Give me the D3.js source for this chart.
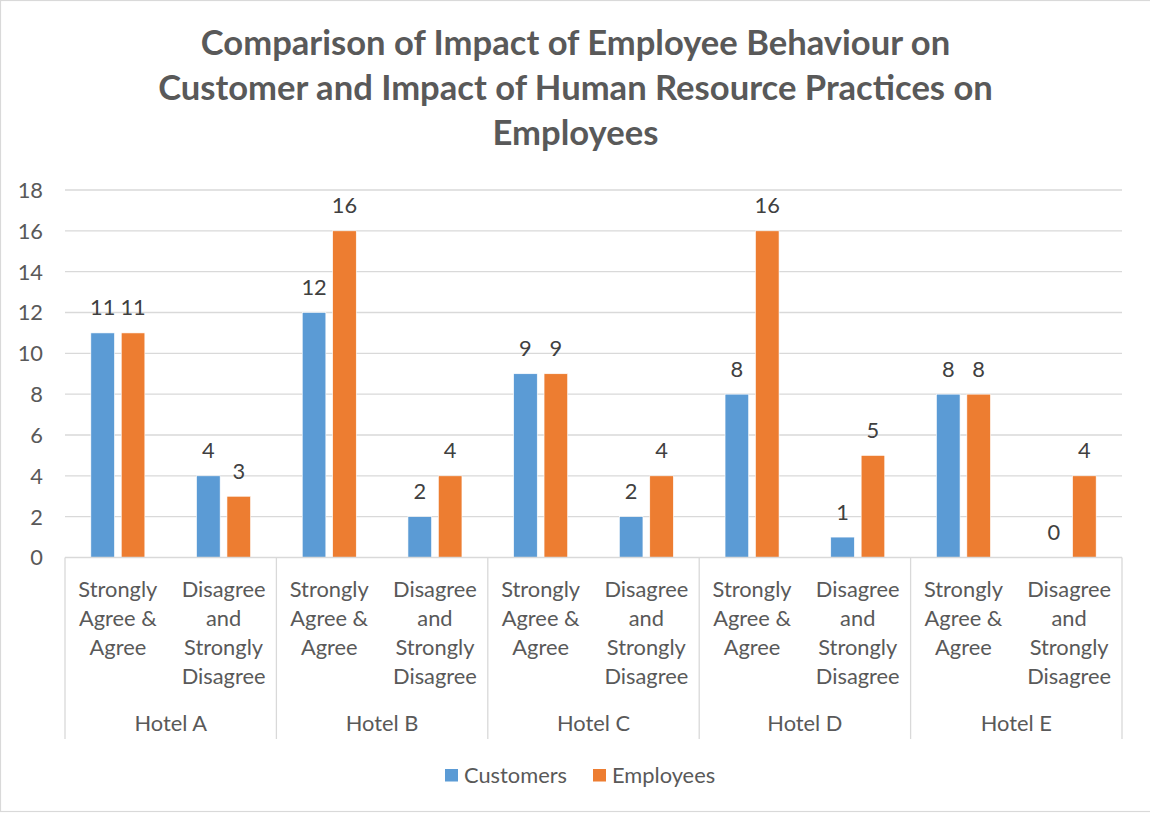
<!DOCTYPE html>
<html>
<head>
<meta charset="utf-8">
<script src="https://cdn.jsdelivr.net/npm/d3@7"></script>
<style>
  html, body { margin: 0; padding: 0; background: #fff; }
  svg { display: block; }
</style>
</head>
<body>
<svg id="chart" width="1150" height="813"></svg>
<script>
// ---- DATA ----
const titleLines = [
  "Comparison of Impact of Employee Behaviour on",
  "Customer and Impact of Human Resource Practices on",
  "Employees"
];
const hotels = ["Hotel A", "Hotel B", "Hotel C", "Hotel D", "Hotel E"];
const responses = [["Strongly", "Agree &", "Agree"], ["Disagree", "and", "Strongly", "Disagree"]];
const seriesNames = ["Customers", "Employees"];
const customers = [11, 4, 12, 2, 9, 2, 8, 1, 8, 0];
const employees = [11, 3, 16, 4, 9, 4, 16, 5, 8, 4];
const yTicks = [0, 2, 4, 6, 8, 10, 12, 14, 16, 18];

(function () {
// ---- STYLE ----
const FONT = "Lato, 'Open Sans', sans-serif";
const TEXT = "#595959";
const GRID = "#d9d9d9";
const colors = ["#5b9bd5", "#ed7d31"];

const svg = d3.select("#chart");
const W = 1150, H = 813;

// border
svg.append("rect").attr("x", 0.5).attr("y", 0.5).attr("width", W + 5).attr("height", H - 2)
  .attr("fill", "none").attr("stroke", GRID).attr("stroke-width", 1.2);

// helper to fit a font size to a target width
function fitSize(text, target, weight) {
  const t = svg.append("text").attr("font-family", FONT).attr("font-weight", weight || "normal")
    .attr("font-size", 100).text(text);
  const w = t.node().getComputedTextLength();
  t.remove();
  return 100 * target / w;
}
const baseSize = fitSize("Customers", 103);
const titleSize = fitSize(titleLines[1], 835, "bold");

// title
const titleBaselines = [55, 100, 145];
svg.append("g").selectAll("text").data(titleLines).join("text")
  .attr("x", 575.5).attr("y", (d, i) => titleBaselines[i])
  .attr("text-anchor", "middle").attr("font-family", FONT).attr("font-weight", "bold")
  .attr("font-size", titleSize).attr("fill", TEXT).text(d => d);

// scales
const pLeft = 65, pRight = 1122, pTop = 190, pBottom = 557.5;
const cats = d3.range(hotels.length * 2);
const x = d3.scaleBand().domain(cats).range([pLeft, pRight]).padding(0);
const y = d3.scaleLinear().domain([0, 18]).range([pBottom, pTop]);
const inner = d3.scaleBand().domain([0, 1]).range([-27, 27]).paddingInner(0.224).paddingOuter(0);

// gridlines
svg.append("g").selectAll("line").data(yTicks.filter(d => d > 0)).join("line")
  .attr("x1", pLeft).attr("x2", pRight).attr("y1", d => y(d)).attr("y2", d => y(d))
  .attr("stroke", GRID).attr("stroke-width", 1.3);

// y axis labels
const yAxis = d3.axisLeft(y).tickValues(yTicks).tickSize(0).tickPadding(0);
const yg = svg.append("g").attr("transform", `translate(${pLeft - 22},0)`).call(yAxis);
yg.select(".domain").remove();
yg.selectAll("text").attr("font-family", FONT).attr("font-size", baseSize).attr("fill", TEXT)
  .attr("dy", "0.34em");

// bars
const data = cats.map(i => [customers[i], employees[i]]);
const catG = svg.append("g").selectAll("g").data(data).join("g")
  .attr("transform", (d, i) => `translate(${x(i) + x.bandwidth() / 2},0)`);
catG.selectAll("rect").data(d => d).join("rect")
  .attr("x", (d, j) => inner(j)).attr("width", inner.bandwidth())
  .attr("y", d => y(d)).attr("height", d => pBottom - y(d))
  .attr("fill", (d, j) => colors[j]).attr("stroke", "#fff").attr("stroke-width", 0.6);
catG.selectAll("text").data(d => d).join("text")
  .attr("x", (d, j) => inner(j) + inner.bandwidth() / 2)
  .attr("y", d => y(d) - 17.5)
  .attr("text-anchor", "middle").attr("font-family", FONT).attr("font-size", baseSize)
  .attr("fill", "#404040").text(d => d);

// x axis line
svg.append("line").attr("x1", pLeft).attr("x2", pRight).attr("y1", pBottom).attr("y2", pBottom)
  .attr("stroke", GRID).attr("stroke-width", 1.3);
// hotel separators
const sepX = d3.range(hotels.length + 1).map(i => i < hotels.length ? x(i * 2) : pRight);
svg.append("g").selectAll("line").data(sepX).join("line")
  .attr("x1", d => d).attr("x2", d => d).attr("y1", pBottom).attr("y2", 739)
  .attr("stroke", GRID).attr("stroke-width", 1.3);

// category labels
const lineH = 29;
const catLabels = svg.append("g").selectAll("text").data(cats).join("text")
  .attr("text-anchor", "middle").attr("font-family", FONT).attr("font-size", baseSize)
  .attr("fill", TEXT);
catLabels.each(function(i) {
  const lines = responses[i % 2];
  const cx = x(i) + x.bandwidth() / 2;
  d3.select(this).selectAll("tspan").data(lines).join("tspan")
    .attr("x", cx).attr("y", (d, k) => 596.5 + k * lineH).text(d => d);
});
// hotel labels
svg.append("g").selectAll("text").data(hotels).join("text")
  .attr("x", (d, i) => x(i * 2) + x.bandwidth())
  .attr("y", 730.5).attr("text-anchor", "middle").attr("font-family", FONT)
  .attr("font-size", baseSize).attr("fill", TEXT).text(d => d);

// legend
const legendX = [445, 593];
const lg = svg.append("g").selectAll("g").data(seriesNames).join("g")
  .attr("transform", (d, i) => `translate(${legendX[i]},769)`);
lg.append("rect").attr("width", 13).attr("height", 12.5).attr("fill", (d, i) => colors[i]);
lg.append("text").attr("x", 19).attr("y", 14).attr("font-family", FONT).attr("font-size", baseSize)
  .attr("fill", TEXT).text(d => d);
})();
</script>
</body>
</html>
